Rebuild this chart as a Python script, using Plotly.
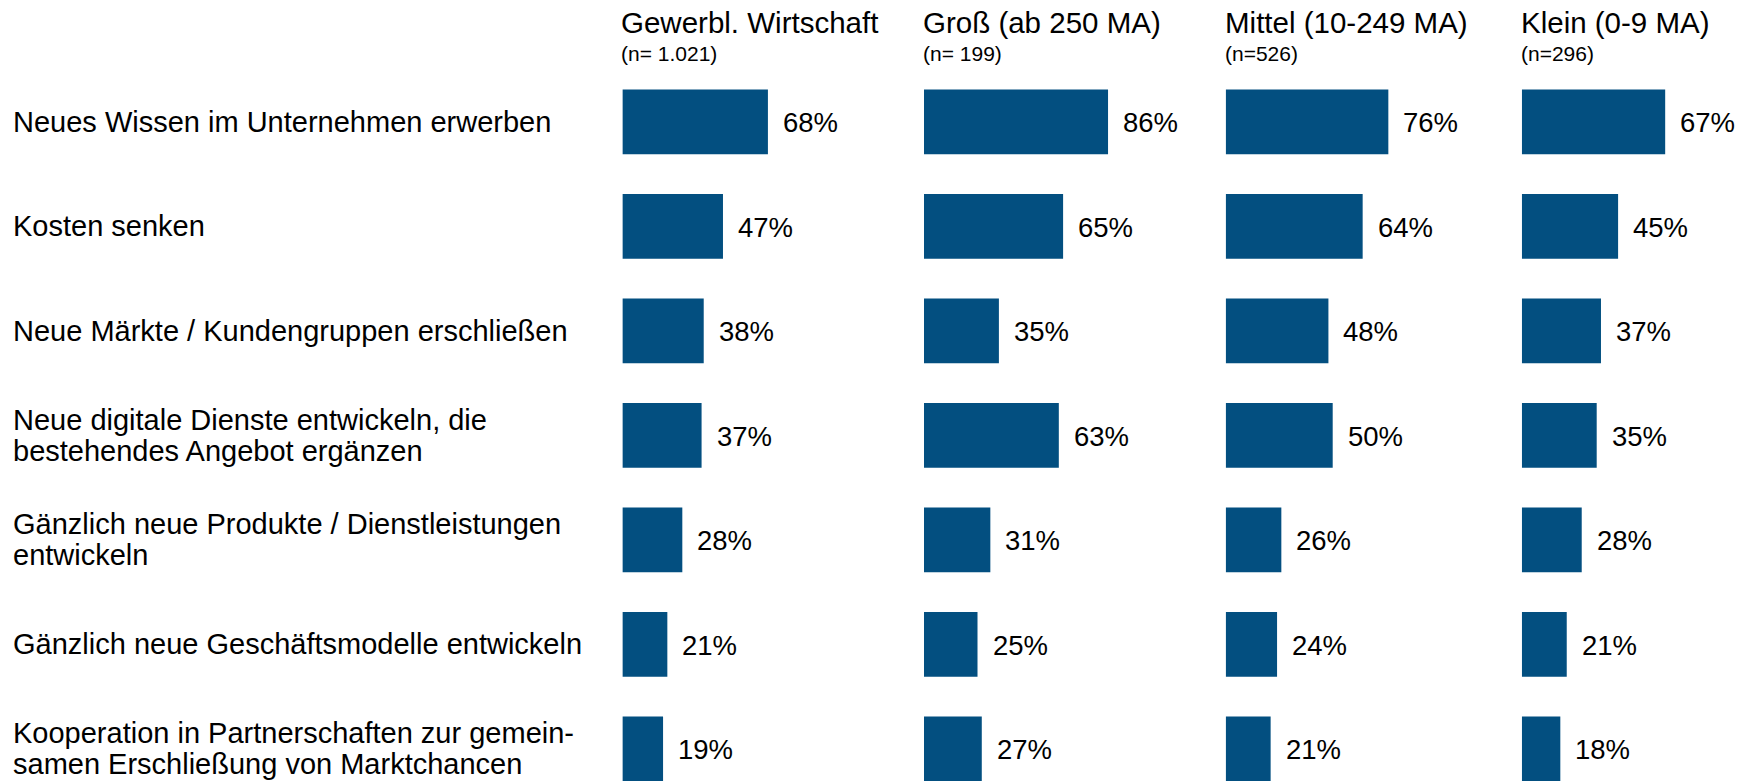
import plotly.graph_objects as go

categories = [
    "Neues Wissen im Unternehmen erwerben",
    "Kosten senken",
    "Neue Märkte / Kundengruppen erschließen",
    "Neue digitale Dienste entwickeln, die<br>bestehendes Angebot ergänzen",
    "Gänzlich neue Produkte / Dienstleistungen<br>entwickeln",
    "Gänzlich neue Geschäftsmodelle entwickeln",
    "Kooperation in Partnerschaften zur gemein-<br>samen Erschließung von Marktchancen",
]
groups = ["Gewerbl. Wirtschaft", "Groß (ab 250 MA)", "Mittel (10-249 MA)", "Klein (0-9 MA)"]
group_n = ["(n= 1.021)", "(n= 199)", "(n=526)", "(n=296)"]

gewerbl = [68, 47, 38, 37, 28, 21, 19]
gross = [86, 65, 35, 63, 31, 25, 27]
mittel = [76, 64, 48, 50, 26, 24, 21]
klein = [67, 45, 37, 35, 28, 21, 18]
series = [gewerbl, gross, mittel, klein]

W, H = 1752, 781
FONT = "Liberation Sans, Arial, sans-serif"
BAR = "#034f80"
px_per = 2.14
lefts = [622.4, 924.0, 1225.7, 1521.8]
rights = [lefts[1] - 10, lefts[2] - 10, lefts[3] - 10, W]
row_px = 104.5
first_center = 121.8

fig = go.Figure()
annotations = []
for i, (vals, g, n) in enumerate(zip(series, groups, group_n)):
    xa = "x" if i == 0 else f"x{i+1}"
    fig.add_trace(go.Bar(
        x=vals, y=categories, orientation="h", xaxis=xa, yaxis="y",
        marker=dict(color=BAR, line=dict(width=0)), width=0.62,
        hoverinfo="skip", showlegend=False,
    ))
    axkey = "xaxis" if i == 0 else f"xaxis{i+1}"
    fig.layout[axkey] = dict(
        domain=[lefts[i] / W, rights[i] / W],
        range=[0, (rights[i] - lefts[i]) / px_per],
        visible=False, fixedrange=True,
    )
    for c, v in zip(categories, vals):
        annotations.append(dict(
            xref=xa, yref="y", x=v, y=c, text=f"{v}%", showarrow=False,
            xanchor="left", yanchor="middle", xshift=13, yshift=-1,
            font=dict(family=FONT, size=27.5, color="#000000"),
        ))
    annotations.append(dict(
        xref="paper", yref="paper", x=(lefts[i] - 3) / W, y=1 - 22.5 / H,
        text=g, showarrow=False, xanchor="left", yanchor="middle",
        font=dict(family=FONT, size=29.5, color="#000000"),
    ))
    annotations.append(dict(
        xref="paper", yref="paper", x=(lefts[i] - 3) / W, y=1 - 53.5 / H,
        text=n, showarrow=False, xanchor="left", yanchor="middle",
        font=dict(family=FONT, size=21, color="#000000"),
    ))

line_gap = 31
for c in categories:
    lines = c.split("<br>")
    k = len(lines)
    for j, ln in enumerate(lines):
        shift = ((k - 1) / 2 - j) * line_gap
        annotations.append(dict(
            xref="paper", yref="y", x=11 / W, y=c, text=ln, showarrow=False,
            xanchor="left", yanchor="middle", yshift=shift,
            font=dict(family=FONT, size=29, color="#000000"),
        ))

top_val = -first_center / row_px
bottom_val = top_val + H / row_px
fig.update_layout(
    width=W, height=H,
    margin=dict(l=0, r=0, t=0, b=0),
    paper_bgcolor="white", plot_bgcolor="white",
    yaxis=dict(type="category", range=[bottom_val, top_val], visible=False,
               domain=[0, 1], fixedrange=True),
    bargap=0.38,
    annotations=annotations,
    font=dict(family=FONT, color="#000000"),
)
fig.write_html("out.html", config={"displayModeBar": False},
               post_script="document.body.style.margin='0px';")
